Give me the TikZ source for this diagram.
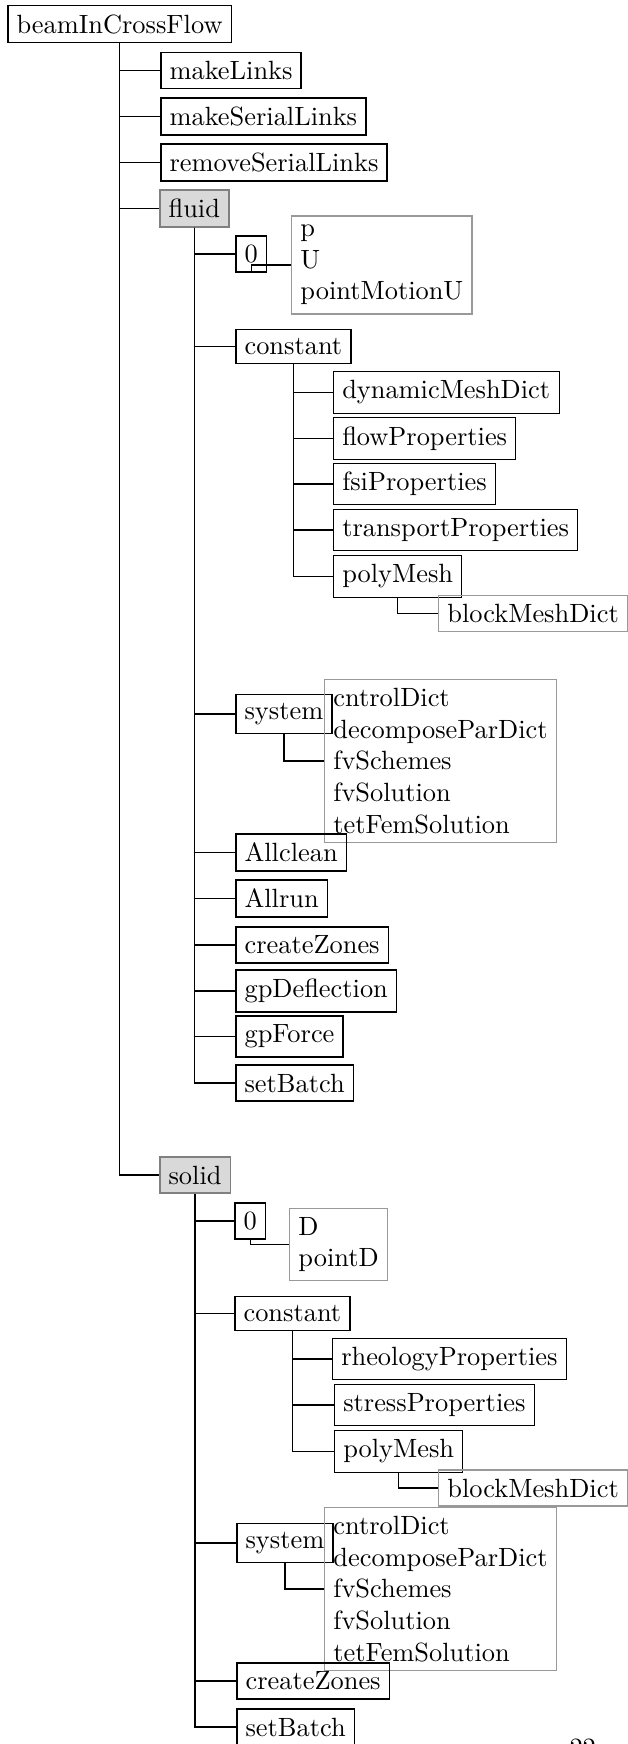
\documentclass[tikz,border=0pt]{standalone}
\begin{document}
\begin{tikzpicture}[x=0.379pt, y=-0.379pt,
  every node/.style={font=\fontsize{10}{12}\selectfont, anchor=west},
  dirbox/.style={draw, line width=0.6pt},
  filebox/.style={draw, line width=0.35pt},
  casebox/.style={draw=black!50, fill=black!15, line width=0.6pt},
  listbox/.style={draw=black!40, line width=0.5pt, align=left},
  link/.style={line width=0.45pt}]
\useasboundingbox (0,0) rectangle (628,1744);

% top level of the case
\node[dirbox] (root) at (7,24) {beamInCrossFlow};
\node[dirbox] (mkl) at (160,70.5) {makeLinks};
\node[dirbox] (mksl) at (160,116.5) {makeSerialLinks};
\node[dirbox] (rmsl) at (160,162.5) {removeSerialLinks};
\node[casebox] (fluid) at (159,208.5) {fluid};
\node[casebox] (solid) at (159,1175) {solid};

% fluid case
\node[dirbox] (fzero) at (235,254) {0};
\node[listbox] (fzerolist) at (291,265) {p\\U\\pointMotionU};
\node[dirbox] (fconst) at (235,346.5) {constant};
\node[filebox] (fdmd) at (333,392.5) {dynamicMeshDict};
\node[filebox] (fflow) at (333,438.5) {flowProperties};
\node[filebox] (ffsi) at (333,484) {fsiProperties};
\node[filebox] (ftrans) at (333,530) {transportProperties};
\node[filebox] (fpoly) at (333,576.5) {polyMesh};
\node[listbox] (fbmd) at (438,613.5) {blockMeshDict};
\node[dirbox] (fsys) at (235,714) {system};
\node[listbox] (fsyslist) at (324,761) {cntrolDict\\decomposeParDict\\fvSchemes\\fvSolution\\tetFemSolution};
\node[dirbox] (fclean) at (235,852.5) {Allclean};
\node[dirbox] (frun) at (235,898.5) {Allrun};
\node[dirbox] (fzones) at (235,945) {createZones};
\node[dirbox] (fdefl) at (235,991) {gpDeflection};
\node[dirbox] (fforce) at (235,1036.5) {gpForce};
\node[dirbox] (fbatch) at (235,1083) {setBatch};

% solid case
\node[dirbox] (szero) at (234,1221) {0};
\node[listbox] (szerolist) at (289,1244.5) {D\\pointD};
\node[dirbox] (sconst) at (234,1313.5) {constant};
\node[filebox] (srheo) at (332,1359) {rheologyProperties};
\node[filebox] (sstress) at (334,1405) {stressProperties};
\node[filebox] (spoly) at (334,1451.5) {polyMesh};
\node[listbox] (sbmd) at (438,1488) {blockMeshDict};
\node[dirbox] (ssys) at (236,1543) {system};
\node[listbox] (ssyslist) at (324,1589) {cntrolDict\\decomposeParDict\\fvSchemes\\fvSolution\\tetFemSolution};
\node[dirbox] (szones) at (236,1681) {createZones};
\node[dirbox] (sbatch) at (236,1727) {setBatch};

% page number
\node[anchor=base west, inner sep=0pt] (pagenum) at (569,1756) {22};

% tree connectors
\foreach \p/\c in {root/mkl, root/mksl, root/rmsl, root/fluid, root/solid,
  fluid/fzero, fzero/fzerolist, fluid/fconst, fconst/fdmd, fconst/fflow,
  fconst/ffsi, fconst/ftrans, fconst/fpoly, fpoly/fbmd, fluid/fsys,
  fsys/fsyslist, fluid/fclean, fluid/frun, fluid/fzones, fluid/fdefl,
  fluid/fforce, fluid/fbatch,
  solid/szero, szero/szerolist, solid/sconst, sconst/srheo, sconst/sstress,
  sconst/spoly, spoly/sbmd, solid/ssys, ssys/ssyslist, solid/szones,
  solid/sbatch}
  \draw[link] (\p.south) |- (\c.west);
\end{tikzpicture}
\end{document}
